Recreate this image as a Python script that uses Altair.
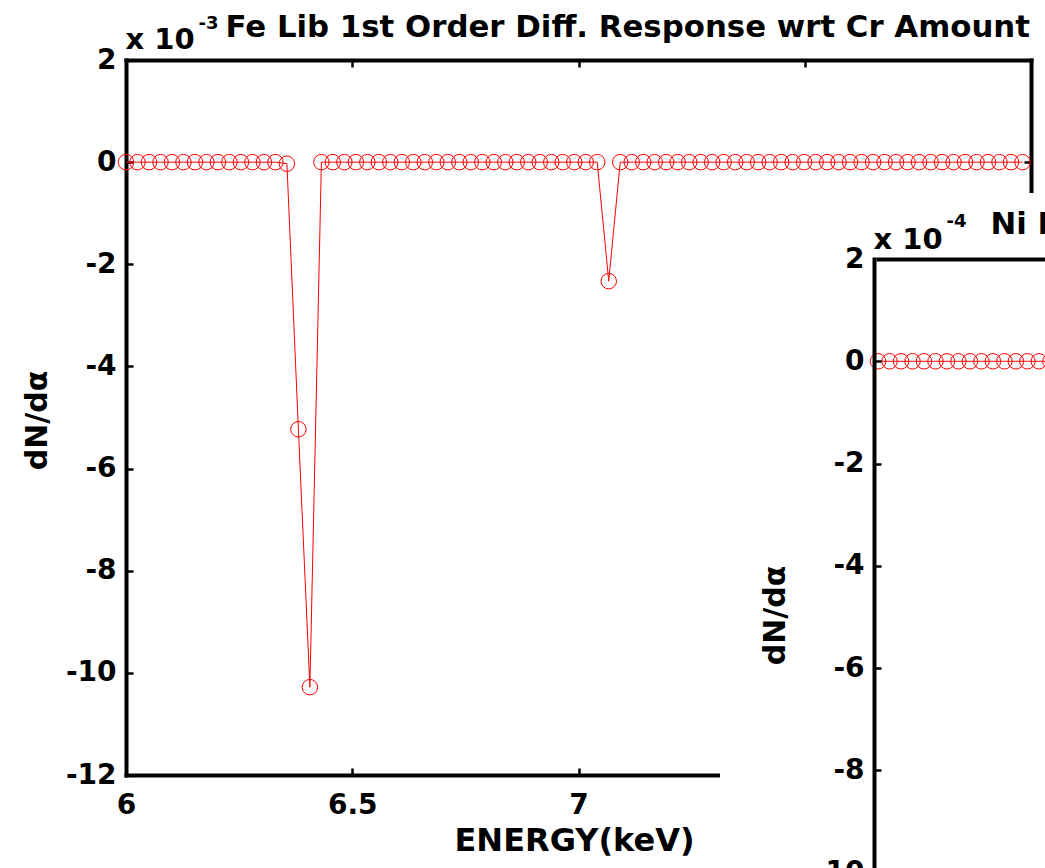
import altair as alt
import pandas as pd

FONT = "DejaVu Sans"
RED = "#ff0000"

# ---------------- data ----------------
energy1 = [6.0000, 6.0254, 6.0508, 6.0762, 6.1016, 6.1270, 6.1524, 6.1778, 6.2032, 6.2286,
           6.2540, 6.2794, 6.3048, 6.3302, 6.3556, 6.3810, 6.4064, 6.4318, 6.4572, 6.4826,
           6.5080, 6.5334, 6.5588, 6.5842, 6.6096, 6.6350, 6.6604, 6.6858, 6.7112, 6.7366,
           6.7620, 6.7874, 6.8128, 6.8382, 6.8636, 6.8890, 6.9144, 6.9398, 6.9652, 6.9906,
           7.0160, 7.0414, 7.0668, 7.0922, 7.1176, 7.1430, 7.1684, 7.1938, 7.2192, 7.2446,
           7.2700, 7.2954, 7.3208, 7.3462, 7.3716, 7.3970, 7.4224, 7.4478, 7.4732, 7.4986,
           7.5240, 7.5494, 7.5748, 7.6002, 7.6256, 7.6510, 7.6764, 7.7018, 7.7272, 7.7526,
           7.7780, 7.8034, 7.8288, 7.8542, 7.8796, 7.9050, 7.9304, 7.9558, 7.9812]
dnda1 = [0, 0, 0, 0, 0, 0, 0, 0, 0, 0,
         0, 0, 0, 0, -0.03, -5.23, -10.28, 0, 0, 0,
         0, 0, 0, 0, 0, 0, 0, 0, 0, 0,
         0, 0, 0, 0, 0, 0, 0, 0, 0, 0,
         0, 0, -2.33, 0, 0, 0, 0, 0, 0, 0,
         0, 0, 0, 0, 0, 0, 0, 0, 0, 0,
         0, 0, 0, 0, 0, 0, 0, 0, 0, 0,
         0, 0, 0, 0, 0, 0, 0, 0, 0]

energy2 = [6.0000, 6.0254, 6.0508, 6.0762, 6.1016, 6.1270, 6.1524, 6.1778, 6.2032, 6.2286,
           6.2540, 6.2794, 6.3048, 6.3302, 6.3556, 6.3810]
dnda2 = [0, 0, 0, 0, 0, 0, 0, 0, 0, 0, 0, 0, 0, 0, 0, 0]

x_ticks = [6, 6.5, 7, 7.5, 8]
x_inner = [6.5, 7, 7.5]
y_ticks = [2, 0, -2, -4, -6, -8, -10, -12]
y_inner = [0, -2, -4, -6, -8, -10]

title1 = "Fe Lib 1st Order Diff. Response wrt Cr Amount"
title2 = "Ni Lib 1st Order Diff. Response wrt Cr Amount"
xlabel = "ENERGY(keV)"
ylabel = "dN/d\u03b1"

df1 = pd.DataFrame({"E": energy1, "v": dnda1})
df2 = pd.DataFrame({"E": energy2, "v": dnda2})

# ---------------- scales (pixel ranges place each panel) ----------------
def xs1():
    return alt.Scale(domain=[6, 8], range=[126, 1031], nice=False, zero=False)

def ys1():
    return alt.Scale(domain=[-12, 2], range=[775, 60], nice=False, zero=False)

def xs2():
    return alt.Scale(domain=[6, 8], range=[878, 1783], nice=False, zero=False)

def ys2():
    return alt.Scale(domain=[-12, 2], range=[975, 259], nice=False, zero=False)

LBL = "'' + datum.value"

def main_axis(orient, offset, values, title, tx, ty, angle, align, baseline, tsize, z):
    return alt.Axis(orient=orient, offset=offset, values=values, labelExpr=LBL,
                    labelFont=FONT, labelFontSize=28, labelFontWeight="bold", labelColor="black",
                    labelPadding=16 if orient == "bottom" else 10,
                    labelFlush=False, labelOverlap=False,
                    ticks=False, tickSize=0, domain=True, domainColor="black",
                    domainWidth=4, domainCap="square", grid=False,
                    title=title, titleFont=FONT, titleFontSize=tsize, titleFontWeight="bold",
                    titleColor="black", titleX=tx, titleY=ty, titleAngle=angle,
                    titleAlign=align, titleBaseline=baseline, zindex=z)

def border_axis(orient, offset, title, tx, ty, tsize, z, domain=True):
    return alt.Axis(orient=orient, offset=offset, labels=False, ticks=False, tickSize=0,
                    domain=domain, domainColor="black", domainWidth=4, domainCap="square",
                    grid=False, title=title, titleFont=FONT, titleFontSize=tsize,
                    titleFontWeight="bold", titleColor="black", titleX=tx, titleY=ty,
                    titleAngle=0, titleAlign="left", titleBaseline="alphabetic", zindex=z)

def tick_axis(orient, offset, values, z, title=None, tx=0, ty=0, tsize=18):
    kw = dict(orient=orient, offset=offset, values=values, labels=False, ticks=True,
              tickSize=7, tickWidth=2.5, tickColor="black", domain=False, grid=False,
              zindex=z)
    if title is None:
        kw["title"] = None
    else:
        kw.update(title=title, titleFont=FONT, titleFontSize=tsize, titleFontWeight="bold",
                  titleColor="black", titleX=tx, titleY=ty, titleAngle=0,
                  titleAlign="left", titleBaseline="alphabetic")
    return alt.Axis(**kw)

PT_SIZE = 240

# ---------------- panel 1 ----------------
p1_line = alt.Chart(df1).mark_line(color=RED, strokeWidth=1).encode(
    x=alt.X("E:Q", scale=xs1(),
            axis=main_axis("bottom", -93, x_ticks, xlabel, 574, 75, 0, "center", "alphabetic", 32, 0)),
    y=alt.Y("v:Q", scale=ys1(),
            axis=main_axis("left", -126, y_ticks, ylabel, -89, 420, 270, "center", "middle", 30, 0)),
)

p1_pts = alt.Chart(df1).mark_point(shape="circle", filled=False, color=RED, size=PT_SIZE,
                                     strokeWidth=1, opacity=1).encode(
    x=alt.X("E:Q", scale=xs1(), axis=border_axis("top", -60, title1, 225, -24, 30.8, 0)),
    y=alt.Y("v:Q", scale=ys1(), axis=border_axis("right", -14, "x 10", -906, 48, 29, 0)),
)

p1_ticks_a = alt.Chart(df1).mark_point(opacity=0).encode(
    x=alt.X("E:Q", scale=xs1(), axis=tick_axis("bottom", -100, x_inner, 0)),
    y=alt.Y("v:Q", scale=ys1(), axis=tick_axis("left", -133, y_inner, 0, "-3", 65, 28, 18)),
)

p1_ticks_b = alt.Chart(df1).mark_point(opacity=0).encode(
    x=alt.X("E:Q", scale=xs1(), axis=tick_axis("top", -67, x_inner, 0)),
    y=alt.Y("v:Q", scale=ys1(), axis=tick_axis("right", -21, y_inner, 0)),
)

# ---------------- panel 2 (overlapping figure window) ----------------
cover = alt.Chart(df2).mark_rect(color="white").encode(
    x=alt.value(720), x2=alt.value(1045), y=alt.value(193), y2=alt.value(868)
)

p2_line = alt.Chart(df2).mark_line(color=RED, strokeWidth=1).encode(
    x=alt.X("E:Q", scale=xs2(), axis=border_axis("top", -259, title2, 990, -26, 30.8, 1)),
    y=alt.Y("v:Q", scale=ys2(),
            axis=main_axis("left", -874, y_ticks, ylabel, -99, 615, 270, "center", "middle", 30, 1)),
)

p2_pts = alt.Chart(df2).mark_point(shape="circle", filled=False, color=RED, size=PT_SIZE,
                                     strokeWidth=1, opacity=1).encode(
    x=alt.X("E:Q", scale=xs2(), axis=border_axis("top", -259, "x 10", 873, -11, 29, 1, domain=False)),
    y=alt.Y("v:Q", scale=ys2(), axis=tick_axis("left", -881, y_inner, 1, "-4", 65, 226, 18)),
)

chart = alt.layer(
    p1_line, p1_pts, p1_ticks_a, p1_ticks_b, cover, p2_line, p2_pts
).resolve_scale(
    x="independent", y="independent"
).resolve_axis(
    x="independent", y="independent"
).properties(
    width=1045, height=868,
    autosize=alt.AutoSizeParams(type="none"),
    padding=0,
    background="white",
).configure_view(stroke=None)

chart.save("out.html", embed_options={"renderer": "svg", "actions": False})
